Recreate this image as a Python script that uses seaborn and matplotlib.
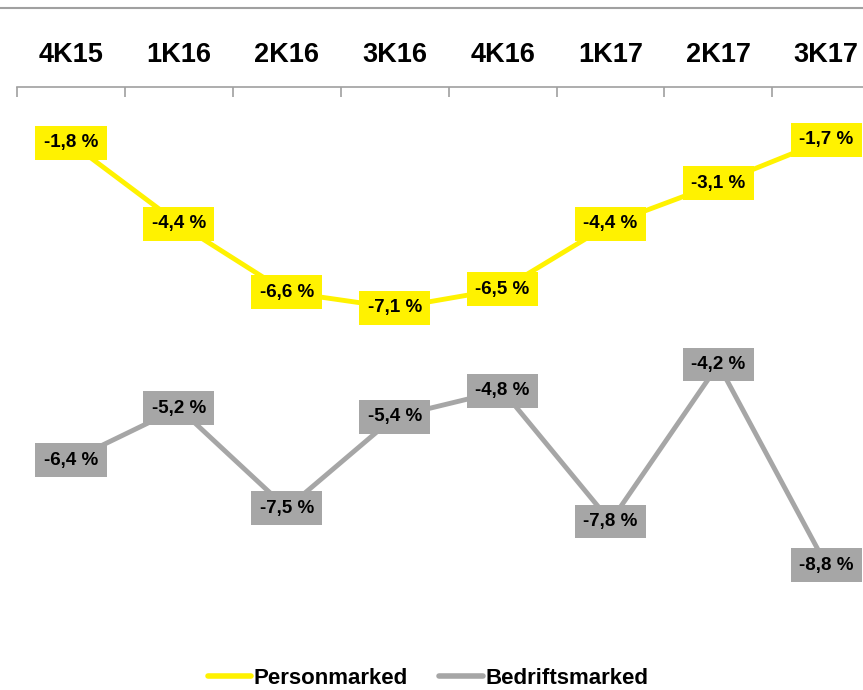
import seaborn as sns
import matplotlib.pyplot as plt
import pandas as pd
from matplotlib.lines import Line2D

quarters = ["4K15", "1K16", "2K16", "3K16", "4K16", "1K17", "2K17", "3K17"]
personmarked = [-1.8, -4.4, -6.6, -7.1, -6.5, -4.4, -3.1, -1.7]
bedriftsmarked = [-6.4, -5.2, -7.5, -5.4, -4.8, -7.8, -4.2, -8.8]

YELLOW = "#FFF200"
GREY = "#A6A6A6"

sns.set_style("white")
plt.rcParams["font.family"] = ["Liberation Sans", "DejaVu Sans"]
plt.rcParams["text.color"] = "black"
plt.rcParams["xtick.color"] = "black"

df = pd.DataFrame({"x": range(len(quarters)), "p": personmarked, "b": bedriftsmarked})

fig = plt.figure(figsize=(8.63, 6.9), dpi=100)
ax = fig.add_axes([17 / 863, 1 - 600 / 690, (863 - 17) / 863, (600 - 87) / 690])
ax2 = ax.twinx()

sns.lineplot(data=df, x="x", y="p", ax=ax, color=YELLOW, linewidth=3.5)
sns.lineplot(data=df, x="x", y="b", ax=ax2, color=GREY, linewidth=3.5)

ax.set_xlim(-0.5, 7.34)
ax.set_ylim(-16.5, 0.0)
ax2.set_ylim(-9.6, 2.16)

def fmt(v):
    return f"{v:.1f} %".replace(".", ",")

for axis, vals, col in [(ax, personmarked, YELLOW), (ax2, bedriftsmarked, GREY)]:
    for i, v in enumerate(vals):
        axis.text(i, v, fmt(v), ha="center", va="center", fontsize=13.5,
                  fontweight="bold", color="black",
                  bbox=dict(boxstyle="square,pad=0.45", fc=col, ec="none"),
                  clip_on=False, zorder=5)

for a in (ax, ax2):
    for s in ["left", "right", "bottom"]:
        a.spines[s].set_visible(False)
    a.set_yticks([])
    a.set_ylabel("")
ax2.spines["top"].set_visible(False)
ax.spines["top"].set_color("#A0A0A0")
ax.spines["top"].set_linewidth(1.2)

ax.xaxis.tick_top()
ax.set_xticks(range(len(quarters)))
ax.set_xticklabels(quarters, fontsize=19.5, fontweight="bold")
ax.set_xticks([i - 0.5 for i in range(len(quarters))], minor=True)
ax.tick_params(axis="x", which="major", length=0, pad=13.5)
ax.tick_params(axis="x", which="minor", length=7, width=1.2, color="#A0A0A0", direction="in", top=True, bottom=False)
ax.set_xlabel("")

fig.add_artist(Line2D([0, 1], [1 - 8 / 690, 1 - 8 / 690], color="#A0A0A0", linewidth=1.5))

handles = [Line2D([], [], color=YELLOW, linewidth=4, solid_capstyle="round"),
           Line2D([], [], color=GREY, linewidth=4, solid_capstyle="round")]
fig.legend(handles, ["Personmarked", "Bedriftsmarked"], loc="center", bbox_to_anchor=(0.496, 1 - 678 / 690),
           ncol=2, frameon=False, handlelength=1.95, handletextpad=0.13, columnspacing=1.4,
           prop={"weight": "bold", "size": 16})

fig.savefig("out.png", dpi=100)
